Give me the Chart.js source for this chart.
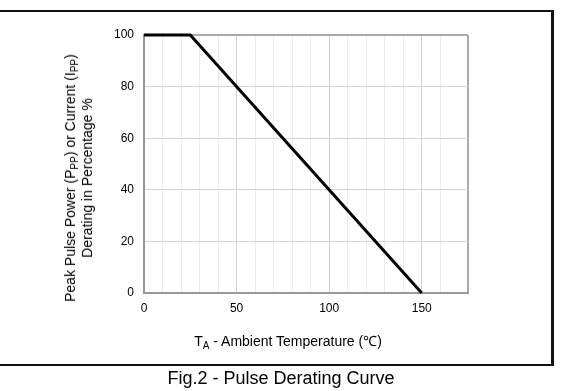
<!DOCTYPE html>
<html>
<head>
<meta charset="utf-8">
<script src="https://cdn.jsdelivr.net/npm/chart.js@4"></script>
<style>
  body { margin: 0; background: #fff; }
  #wrap { position: relative; width: 568px; height: 391px; overflow: hidden; font-family: "Liberation Sans", Arial, sans-serif; color: #000; }
  #frame { position: absolute; left: -10px; top: 10px; width: 559px; height: 352px; border: 2px solid #111; border-right-width: 3px; }
  .lbl { position: absolute; white-space: nowrap; }
  .lbl sub { font-size: 10px; vertical-align: -3px; line-height: 0; }
  #xtitle { left: 288px; top: 340px; font-size: 14px; transform: translate(-50%, -50%); }
  #ytitle { left: 79px; top: 178px; font-size: 14px; line-height: 17px; text-align: center; transform: translate(-50%, -50%) rotate(-90deg); }
  #caption { left: 281px; top: 378px; font-size: 18px; transform: translate(-50%, -50%); }
  canvas { position: absolute; left: 0; top: 0; }
</style>
</head>
<body>
<div id="wrap">
  <div id="frame"></div>
  <canvas id="chart" width="568" height="391"></canvas>
  <div class="lbl" id="xtitle">T<sub>A</sub> - Ambient Temperature (℃)</div>
  <div class="lbl" id="ytitle">Peak Pulse Power (P<sub>PP</sub>) or Current (I<sub>PP</sub>)<br>Derating in Percentage %</div>
  <div class="lbl" id="caption">Fig.2 - Pulse Derating Curve</div>
</div>
<script>
// derating curve: flat to 25C then linear down to 0 at 150C
const temps = [0, 25, 150];
const derating = [100, 100, 0];
const xTickLabels = [0, 50, 100, 150];
const yTickLabels = [0, 20, 40, 60, 80, 100];

const ctx = document.getElementById('chart').getContext('2d');
new Chart(ctx, {
  type: 'line',
  data: {
    datasets: [{
      data: temps.map((t, i) => ({ x: t, y: derating[i] })),
      borderColor: '#000',
      borderWidth: 3,
      pointRadius: 0,
      tension: 0,
      fill: false,
      clip: false
    }]
  },
  options: {
    responsive: false,
    animation: false,
    layout: { padding: { left: 0, top: 35, right: 100, bottom: 0 } },
    plugins: { legend: { display: false }, tooltip: { enabled: false } },
    scales: {
      x: {
        type: 'linear',
        min: 0,
        max: 175,
        afterFit: s => { s.height = 98; },
        border: { color: '#999', width: 2 },
        grid: {
          drawTicks: false,
          color: c => {
            const v = c.tick.value;
            if (v === 175) return '#aaa';
            return v % 50 === 0 ? '#d4d4d4' : '#ececec';
          },
          lineWidth: c => (c.tick.value === 175 ? 2 : 1)
        },
        ticks: {
          stepSize: 10,
          autoSkip: false,
          maxRotation: 0,
          padding: 8,
          color: '#000',
          font: { family: 'Liberation Sans', size: 12 },
          callback: v => (xTickLabels.includes(v) ? String(v) : '')
        }
      },
      y: {
        min: 0,
        max: 100,
        afterFit: s => { s.width = 144; },
        border: { color: '#999', width: 2 },
        grid: {
          drawTicks: false,
          color: c => (c.tick.value === 100 ? '#aaa' : '#d4d4d4'),
          lineWidth: c => (c.tick.value === 100 ? 2 : 1)
        },
        ticks: {
          stepSize: 20,
          padding: 10,
          color: '#000',
          font: { family: 'Liberation Sans', size: 12 },
          callback: v => (yTickLabels.includes(v) ? String(v) : '')
        }
      }
    }
  }
});
</script>
</body>
</html>
